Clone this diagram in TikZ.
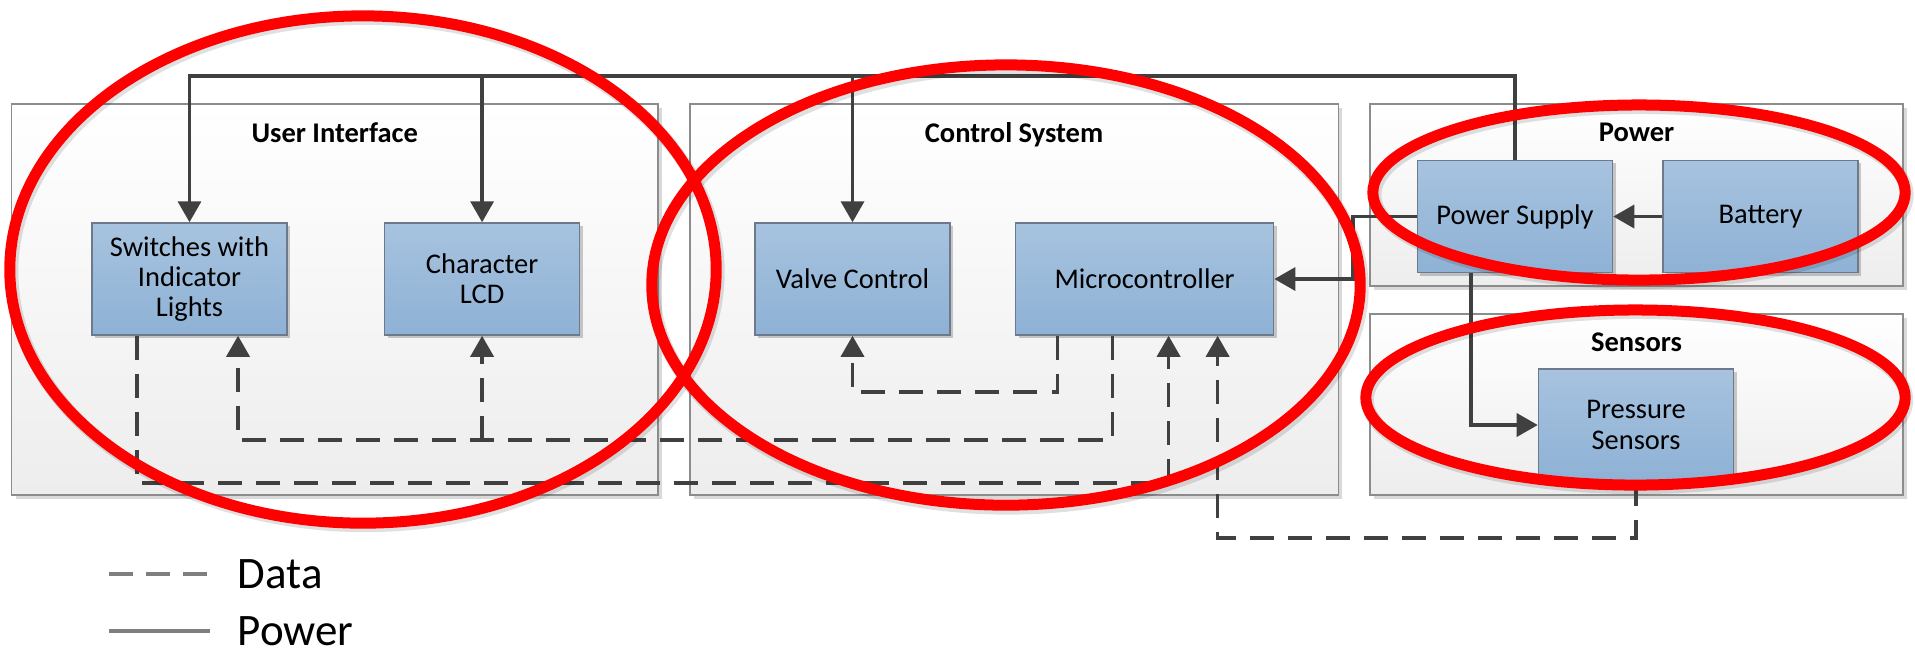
\documentclass[tikz,border=0pt]{standalone}
\usepackage{fontspec}
\setmainfont{Carlito}
\usetikzlibrary{arrows.meta, positioning, shadows}
\definecolor{linec}{HTML}{404040}
\definecolor{legc}{HTML}{7F7F7F}
\definecolor{boxtop}{HTML}{A7C3DF}
\definecolor{boxbot}{HTML}{8EB1D5}
\definecolor{boxline}{HTML}{6C7A8C}
\definecolor{grpbot}{HTML}{EDEDED}
\definecolor{grpline}{HTML}{8C8C8C}
\newcommand{\blkfont}{\fontsize{8.1}{8.6}\selectfont}
\newcommand{\grpfont}{\fontsize{8.1}{9}\selectfont\bfseries}
\newcommand{\legfont}{\fontsize{12.8}{14}\selectfont}
\tikzset{%
	block/.style={draw=boxline, top color=boxtop, bottom color=boxbot,%
		minimum width=1.95cm, minimum height=1.12cm, inner sep=1pt, align=center,%
		font=\blkfont, drop shadow={shadow xshift=0.03cm, shadow yshift=-0.03cm, opacity=0.2, fill=black}},
	group/.style={draw=grpline, top color=white, bottom color=grpbot,%
		drop shadow={shadow xshift=0.04cm, shadow yshift=-0.04cm, opacity=0.15, fill=black}},
	title/.style={font=\grpfont, inner sep=0pt},
	pline/.style={->, draw=linec, line width=1pt},
	dline/.style={pline, dash pattern=on 0.24cm off 0.14cm},
	ring/.style={draw=red, line width=0.11cm},
	ringshade/.style={draw=black, opacity=0.12, line width=0.13cm},
	legline/.style={draw=legc, line width=1.3pt},
	legtext/.style={font=\legfont, inner sep=0pt, anchor=west}
}

\begin{document}
\begin{tikzpicture}[x=0.01cm, y=-0.01cm, >={Triangle[length=2.1mm, width=2.3mm]}]
	\useasboundingbox (0,0) rectangle (1915,653);

	% groups
	\node[group, minimum width=6.46cm, minimum height=3.91cm] (ui)   at (334.8,299.5) {};
	\node[group, minimum width=6.48cm, minimum height=3.91cm] (ctrl) at (1014,299.5) {};
	\node[group, minimum width=5.33cm, minimum height=1.82cm] (pwr)  at (1636.5,195) {};
	\node[group, minimum width=5.33cm, minimum height=1.81cm] (sens) at (1636.5,404.5) {};
	\node[title, below=0.19cm of ui.north]   (uit)   {User Interface};
	\node[title, below=0.19cm of ctrl.north] (ctrlt) {Control System};
	\node[title, below=0.19cm of pwr.north]  (pwrt)  {Power};
	\node[title, below=0.19cm of sens.north] (senst) {Sensors};

	% blocks
	\node[block] (sw) at (189.5,279) {Switches with\\Indicator\\Lights};
	\node[block, right=0.96cm of sw] (lcd) {Character\\LCD};
	\node[block] (valve) at (852.5,279) {Valve Control};
	\node[block, minimum width=2.58cm, right=0.64cm of valve] (mcu) {Microcontroller};
	\node[block] (ps) at (1515,216.5) {Power Supply};
	\node[block, right=0.49cm of ps] (bat) {Battery};
	\node[block] (press) at (1636,425) {Pressure\\Sensors};

	% power
	\draw[pline] (ps.north) -- ++(0,-84) -| (sw.north);
	\draw[pline] ([yshift=1.46cm]lcd.north) -- (lcd.north);
	\draw[pline] ([yshift=1.46cm]valve.north) -- (valve.north);
	\draw[pline] (bat.west) -- (ps.east);
	\draw[pline] (ps.west) -- ++(-64,0) |- (mcu.east);
	\draw[pline] ([xshift=-0.44cm]ps.south) |- (press.west);

	% data
	\draw[dline] ([xshift=-0.87cm]mcu.south) -- ++(0,56) -| (valve.south);
	\draw[dline] ([xshift=-0.32cm]mcu.south) -- ++(0,104) -| ([xshift=0.485cm]sw.south);
	\draw[dline] ([yshift=-1.04cm]lcd.south) -- (lcd.south);
	\draw[dline] ([xshift=-0.525cm]sw.south) -- ++(0,147) -| ([xshift=0.24cm]mcu.south);
	\draw[dline] (press.south) -- ++(0,56) -| ([xshift=0.73cm]mcu.south);

	% highlight rings
	\draw[ringshade] (365,272) ellipse [x radius=3.53cm, y radius=2.535cm];
	\draw[ringshade] (1008,288) ellipse [x radius=3.54cm, y radius=2.20cm];
	\draw[ringshade] (1641,195) ellipse [x radius=2.66cm, y radius=0.875cm];
	\draw[ringshade] (1637,400) ellipse [x radius=2.695cm, y radius=0.875cm];
	\draw[ring] (363,269.5) ellipse [x radius=3.53cm, y radius=2.535cm];
	\draw[ring] (1006,285) ellipse [x radius=3.54cm, y radius=2.20cm];
	\draw[ring] (1639,192.5) ellipse [x radius=2.66cm, y radius=0.875cm];
	\draw[ring] (1635.5,397.5) ellipse [x radius=2.695cm, y radius=0.875cm];

	% legend
	\coordinate (ld) at (109,574);
	\coordinate (lp) at (109,631);
	\node[legtext] (ldata)  at (237,574) {Data};
	\node[legtext] (lpower) at (237,631) {Power};
	\draw[legline, dash pattern=on 0.24cm off 0.13cm] (ld) -- ([xshift=-0.27cm]ldata.west);
	\draw[legline] (lp) -- ([xshift=-0.27cm]lpower.west);

\end{tikzpicture}
\end{document}
